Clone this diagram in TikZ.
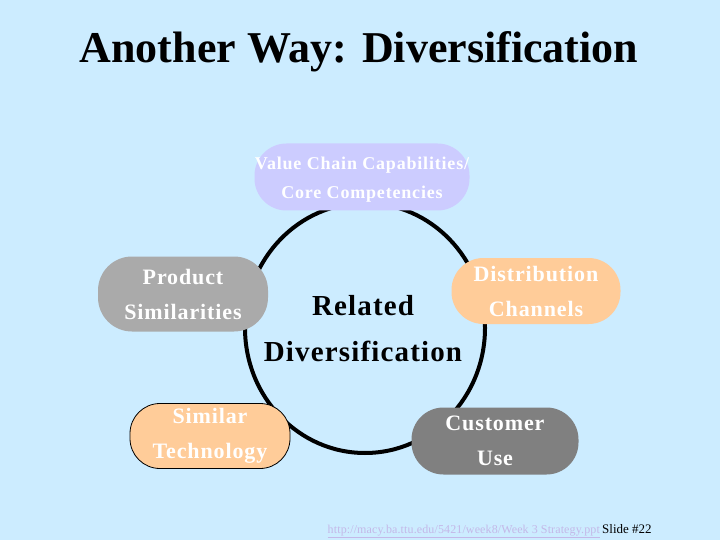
\documentclass[tikz,border=0pt]{standalone}
\usepackage{fontspec}
\setmainfont{Liberation Serif}
\definecolor{bgblue}{HTML}{CCECFF}
\definecolor{lav}{HTML}{CCCCFF}
\definecolor{peach}{HTML}{FFCC99}
\definecolor{lgray}{HTML}{AAAAAA}
\definecolor{dgray}{HTML}{808080}
\definecolor{urlcol}{HTML}{C4B8E8}
\tikzset{
  pill/.style={rectangle, rounded corners=30pt, align=center, text=white,
    font=\fontsize{22}{35}\selectfont\bfseries\addfontfeature{LetterSpace=4}, inner sep=0pt},
}
\begin{document}
\begin{tikzpicture}[x=1pt,y=-1pt]
\fill[bgblue] (0,0) rectangle (720,540);
\useasboundingbox (0,0) rectangle (720,540);
\node[font=\fontsize{44}{50}\selectfont\bfseries] (title) at (359,52) {Another Way: Diversification};
\draw[line width=4pt] (365,328) ellipse [x radius=120, y radius=125];
\node[pill, fill=lav, minimum width=215, minimum height=67, rounded corners=32pt] (vc) at (362,177) {};
\node[align=center, text=white, inner sep=0pt,
  font=\fontsize{18}{29}\selectfont\bfseries\addfontfeature{LetterSpace=4.5}] (vct) at (362,180)
  {Value Chain Capabilities/\\Core Competencies};
\node[pill, fill=peach, draw=black, line width=0.8pt, minimum width=160, minimum height=65, rounded corners=30pt] (st) at (210,436)
  {Similar\\Technology};
\node[pill, fill=lgray, minimum width=170, minimum height=75, rounded corners=34pt] (ps) at (183,294)
  {Product\\Similarities};
\node[pill, fill=peach, minimum width=169, minimum height=66, rounded corners=32pt] (dc) at (536,291)
  {Distribution\\Channels};
\node[pill, fill=dgray, minimum width=167, minimum height=67, rounded corners=32pt] (cu) at (495,441)
  {Customer\\Use};
\node[align=center, font=\fontsize{29}{46}\selectfont\bfseries\addfontfeature{LetterSpace=4}] (rd) at (363,329) {Related\\Diversification};
\node[anchor=base east, font=\fontsize{12}{13}\selectfont\addfontfeature{LetterSpace=1}, text=urlcol, inner sep=0pt] (url) at (600,533)
  {\underline{http://macy.ba.ttu.edu/5421/week8/Week 3 Strategy.ppt}};
\node[anchor=base west, font=\fontsize{13}{15}\selectfont, inner sep=0pt] (sl) at (602,533) {Slide \#22};
\end{tikzpicture}
\end{document}
